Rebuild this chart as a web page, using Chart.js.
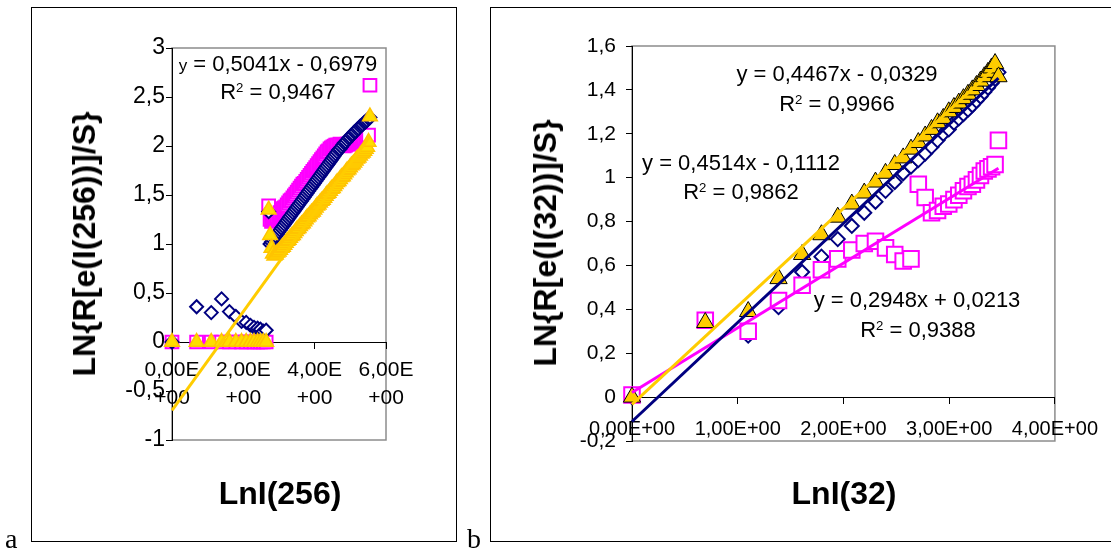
<!DOCTYPE html>
<html>
<head>
<meta charset="utf-8">
<script src="https://cdn.jsdelivr.net/npm/chart.js@4.4.0/dist/chart.umd.min.js"></script>
<style>
  body { margin:0; background:#fff; width:1111px; height:551px; overflow:hidden; position:relative;
         font-family:"Liberation Sans", Arial, sans-serif; color:#000; }
  .box { position:absolute; box-sizing:border-box; border:1px solid #000; }
  canvas { position:absolute; top:0; }
  .txt { position:absolute; white-space:nowrap; line-height:1; font-size:22px; transform:translate(-50%,-50%); }
  .ttl { position:absolute; white-space:nowrap; line-height:1; font-size:32px; font-weight:bold; transform:translate(-50%,-50%); }
  .ttl.v { transform:translate(-50%,-50%) rotate(-90deg); }
  .lbl { position:absolute; line-height:1; font-family:"Liberation Serif","Times New Roman",serif; font-size:28px; }
  .sup { font-size:60%; position:relative; top:-0.55em; }
  .small { font-size:17px; }
</style>
</head>
<body>
<div class="box" style="left:31px;top:7px;width:426px;height:535px"></div>
<div class="box" style="left:490px;top:7px;width:640px;height:535px"></div>
<canvas id="chartA" width="470" height="551" style="left:0"></canvas>
<canvas id="chartB" width="641" height="551" style="left:470px"></canvas>

<div class="txt" style="left:278px;top:64px"><span class="small">y</span> = 0,5041x - 0,6979</div>
<div class="txt" style="left:278px;top:92px">R<span class="sup">2</span> = 0,9467</div>
<div class="ttl v" style="left:84px;top:244px">LN{R[e(I(256))]/S}</div>
<div class="ttl" style="left:280px;top:493px">LnI(256)</div>

<div class="txt" style="left:837px;top:74px">y = 0,4467x - 0,0329</div>
<div class="txt" style="left:837px;top:104px">R<span class="sup">2</span> = 0,9966</div>
<div class="txt" style="left:741px;top:163px">y = 0,4514x - 0,1112</div>
<div class="txt" style="left:741px;top:192px">R<span class="sup">2</span> = 0,9862</div>
<div class="txt" style="left:917px;top:300px">y = 0,2948x + 0,0213</div>
<div class="txt" style="left:918px;top:330px">R<span class="sup">2</span> = 0,9388</div>
<div class="ttl v" style="left:545px;top:243px">LN{R[e(I(32))]/S}</div>
<div class="ttl" style="left:844px;top:493px">LnI(32)</div>

<div class="lbl" style="left:5px;top:525px">a</div>
<div class="lbl" style="left:467px;top:525px">b</div>

<script>
// ---- panel a : LnI(256) ----
const lnIA = [0, 0.69, 1.10, 1.39, 1.61, 1.79, 1.95, 2.08, 2.20, 2.30, 2.40, 2.48, 2.56, 2.64,
  2.71, 2.75, 2.79, 2.83, 2.87, 2.91, 2.95, 2.99, 3.03, 3.07, 3.11, 3.15, 3.19, 3.23, 3.27, 3.31,
  3.35, 3.39, 3.43, 3.47, 3.51, 3.55, 3.59, 3.63, 3.67, 3.71, 3.75, 3.79, 3.83, 3.87, 3.91, 3.95,
  3.99, 4.03, 4.07, 4.11, 4.15, 4.19, 4.23, 4.27, 4.31, 4.35, 4.39, 4.43, 4.47, 4.51, 4.55, 4.59,
  4.63, 4.67, 4.71, 4.75, 4.79, 4.83, 4.87, 4.91, 4.95, 4.99, 5.03, 5.07, 5.11, 5.15, 5.19, 5.23,
  5.27, 5.31, 5.35, 5.39, 5.43, 5.47, 5.51, 5.55];
const navyA = [0, 0.36, 0.30, 0.44, 0.31, 0.26, 0.21, 0.20, 0.17, 0.15, 0.14, 0.13, 0.11, 0.12,
  1.33, 1.00, 1.02, 1.04, 1.06, 1.08, 1.10, 1.12, 1.14, 1.16, 1.18, 1.20, 1.22, 1.24, 1.26, 1.28,
  1.30, 1.32, 1.34, 1.36, 1.38, 1.40, 1.42, 1.44, 1.46, 1.48, 1.50, 1.52, 1.54, 1.56, 1.58, 1.60,
  1.62, 1.64, 1.66, 1.68, 1.70, 1.72, 1.74, 1.76, 1.78, 1.80, 1.82, 1.84, 1.86, 1.88, 1.90, 1.92,
  1.94, 1.96, 1.97, 1.99, 2.01, 2.03, 2.04, 2.06, 2.08, 2.09, 2.11, 2.12, 2.14, 2.15, 2.17, 2.18,
  2.20, 2.21, 2.22, 2.24, 2.25, 2.26, 2.28, 2.29];
const pinkA = [0, 0, 0, 0, 0, 0, 0, 0, 0, 0, 0, 0, 0, 0,
  1.39, 1.25, 1.23, 1.24, 1.25, 1.27, 1.28, 1.30, 1.32, 1.34, 1.36, 1.37, 1.38, 1.40, 1.42, 1.44,
  1.45, 1.47, 1.49, 1.51, 1.53, 1.55, 1.57, 1.59, 1.61, 1.62, 1.64, 1.66, 1.68, 1.70, 1.72, 1.74,
  1.76, 1.78, 1.80, 1.82, 1.84, 1.86, 1.88, 1.90, 1.92, 1.94, 1.95, 1.97, 1.98, 1.99, 2.00, 2.01,
  2.01, 2.01, 2.02, 2.01, 2.01, 2.00, 2.01, 2.02, 2.02, 2.03, 2.04, 2.04, 2.05, 2.05, 2.06, 2.06,
  2.07, 2.07, 2.08, 2.08, 2.09, 2.10, 2.11, 2.62];
const yellowA = [0, 0, 0, 0, 0, 0, 0, 0, 0, 0, 0, 0, 0, 0,
  1.35, 1.09, 0.96, 0.90, 0.88, 0.89, 0.91, 0.92, 0.94, 0.96, 0.97, 0.99, 1.01, 1.03, 1.04, 1.06,
  1.08, 1.09, 1.11, 1.13, 1.15, 1.16, 1.18, 1.20, 1.21, 1.23, 1.25, 1.27, 1.28, 1.30, 1.32, 1.33,
  1.35, 1.37, 1.39, 1.40, 1.42, 1.44, 1.45, 1.47, 1.49, 1.51, 1.52, 1.54, 1.56, 1.57, 1.59, 1.61,
  1.63, 1.64, 1.66, 1.68, 1.69, 1.71, 1.73, 1.75, 1.76, 1.78, 1.80, 1.81, 1.83, 1.85, 1.87, 1.88,
  1.90, 1.92, 1.93, 1.95, 1.97, 1.99, 2.04, 2.30];
const trendSlopeA = [0.5041];
const trendInterceptA = [-0.6979];

// ---- panel b : LnI(32) ----
const lnIB = [0, 0.693, 1.099, 1.386, 1.609, 1.792, 1.946, 2.079, 2.197, 2.303, 2.398, 2.485,
  2.565, 2.639, 2.708, 2.773, 2.833, 2.890, 2.944, 2.996, 3.045, 3.091, 3.135, 3.178, 3.219,
  3.258, 3.296, 3.332, 3.367, 3.401, 3.434, 3.466];
const navyB = [0, 0.35, 0.28, 0.41, 0.57, 0.64, 0.72, 0.78, 0.84, 0.89, 0.94, 0.98, 1.02, 1.05,
  1.08, 1.11, 1.14, 1.17, 1.20, 1.22, 1.25, 1.27, 1.29, 1.31, 1.33, 1.35, 1.37, 1.39, 1.41, 1.43,
  1.45, 1.48];
const pinkB = [0.01, 0.35, 0.30, 0.44, 0.51, 0.58, 0.63, 0.67, 0.70, 0.71, 0.68, 0.65, 0.62, 0.63,
  0.97, 0.91, 0.84, 0.85, 0.87, 0.88, 0.90, 0.92, 0.94, 0.96, 0.97, 0.99, 1.01, 1.03, 1.04, 1.05,
  1.06, 1.17];
const yellowB = [0, 0.34, 0.39, 0.54, 0.65, 0.74, 0.82, 0.88, 0.93, 0.98, 1.02, 1.06, 1.09, 1.13,
  1.16, 1.19, 1.22, 1.25, 1.27, 1.30, 1.32, 1.34, 1.36, 1.38, 1.40, 1.42, 1.44, 1.46, 1.48, 1.50,
  1.52, 1.46];
// trend lines: navy, yellow, magenta
const trendSlopeB = [0.4514, 0.4467, 0.2948];
const trendInterceptB = [-0.1112, -0.0329, 0.0213];

const NAVY = '#000080', PINK = '#FF00FF', GOLD = '#FFCC00';

function pts(xs, ys) {
  return xs.map((x, i) => ({ x: x, y: ys[i] }));
}
function trend(m, b, x1) {
  return [{ x: 0, y: b }, { x: x1, y: m * x1 + b }];
}
function commaNum(v) {
  return String(Math.round(v * 10) / 10).replace('.', ',');
}

const plotFrame = {
  id: 'plotFrame',
  beforeDraw(chart) {
    const a = chart.chartArea, ctx = chart.ctx;
    ctx.save();
    ctx.strokeStyle = '#8c8c8c';
    ctx.lineWidth = 1.5;
    ctx.strokeRect(a.left, a.top, a.right - a.left, a.bottom - a.top);
    ctx.restore();
  }
};

function scatterOptions(xOpts, yOpts, pad, xLabelPad, yLabelPad) {
  return {
    responsive: false,
    animation: false,
    layout: { padding: pad },
    plugins: { legend: { display: false }, tooltip: { enabled: false } },
    scales: {
      x: Object.assign({
        type: 'linear',
        position: { y: 0 },
        afterFit: s => { s.height = 0; },
        grid: { drawOnChartArea: false, drawTicks: true, tickLength: 6, color: '#000' },
        border: { display: true, color: '#000', width: 1 },
        ticks: { color: '#000', font: { family: 'Liberation Sans', size: 21, lineHeight: 1.3 },
                 padding: xLabelPad, autoSkip: false, maxRotation: 0 }
      }, xOpts),
      y: Object.assign({
        type: 'linear',
        afterFit: s => { s.width = 60; },
        grid: { drawOnChartArea: false, drawTicks: true, tickLength: 6, color: '#000' },
        border: { display: true, color: '#000', width: 1 },
        ticks: { color: '#000', font: { family: 'Liberation Sans', size: 23 },
                 padding: yLabelPad, callback: commaNum }
      }, yOpts)
    }
  };
}

// chart a
const optA = scatterOptions(
  { min: 0, max: 6 },
  { min: -1, max: 3 },
  { left: 112, right: 84, top: 48, bottom: 111 }, 9, 1);
optA.scales.x.ticks.stepSize = 2;
optA.scales.x.ticks.callback = v => [v.toFixed(2).replace('.', ',') + 'E', '+00'];
optA.scales.y.ticks.stepSize = 0.5;

new Chart(document.getElementById('chartA'), {
  type: 'scatter',
  data: {
    datasets: [
      { type: 'line', data: trend(trendSlopeA[0], trendInterceptA[0], 5.55), borderColor: GOLD,
        borderWidth: 3, pointRadius: 0, order: 0, clip: false },
      { data: pts(lnIA, yellowA), pointStyle: 'triangle', pointRadius: 8.5, backgroundColor: '#FFDD00',
        borderColor: '#FFC400', borderWidth: 1.5, order: 1, clip: false },
      { data: pts(lnIA, navyA), pointStyle: 'rectRot', pointRadius: 6.5, backgroundColor: '#fff',
        borderColor: NAVY, borderWidth: 2, order: 2, clip: false },
      { data: pts(lnIA, pinkA), pointStyle: 'rect', pointRadius: 9, backgroundColor: '#fff',
        borderColor: PINK, borderWidth: 2, order: 3, clip: false }
    ]
  },
  options: optA,
  plugins: [plotFrame]
});

// chart b
const optB = scatterOptions(
  { min: 0, max: 4 },
  { min: -0.2, max: 1.6 },
  { left: 102, right: 56, top: 46, bottom: 110 }, 13, 10);
optB.scales.x.ticks.stepSize = 1;
optB.scales.x.ticks.font.size = 20;
optB.scales.x.ticks.callback = v => v.toFixed(2).replace('.', ',') + 'E+00';
optB.scales.y.ticks.stepSize = 0.2;
optB.scales.y.ticks.font.size = 21;

const xEndB = lnIB[lnIB.length - 1];
new Chart(document.getElementById('chartB'), {
  type: 'scatter',
  data: {
    datasets: [
      { type: 'line', data: trend(trendSlopeB[0], trendInterceptB[0], xEndB), borderColor: NAVY,
        borderWidth: 3, pointRadius: 0, order: 0, clip: false },
      { type: 'line', data: trend(trendSlopeB[1], trendInterceptB[1], xEndB), borderColor: GOLD,
        borderWidth: 3, pointRadius: 0, order: 1, clip: false },
      { type: 'line', data: trend(trendSlopeB[2], trendInterceptB[2], xEndB), borderColor: PINK,
        borderWidth: 3, pointRadius: 0, order: 2, clip: false },
      { data: pts(lnIB, yellowB), pointStyle: 'triangle', pointRadius: 10, backgroundColor: GOLD,
        borderColor: '#000', borderWidth: 1, order: 3, clip: false },
      { data: pts(lnIB, pinkB), pointStyle: 'rect', pointRadius: 11, backgroundColor: '#fff',
        borderColor: PINK, borderWidth: 2, order: 4, clip: false },
      { data: pts(lnIB, navyB), pointStyle: 'rectRot', pointRadius: 7, backgroundColor: '#fff',
        borderColor: NAVY, borderWidth: 2, order: 5, clip: false }
    ]
  },
  options: optB,
  plugins: [plotFrame]
});
</script>
</body>
</html>
